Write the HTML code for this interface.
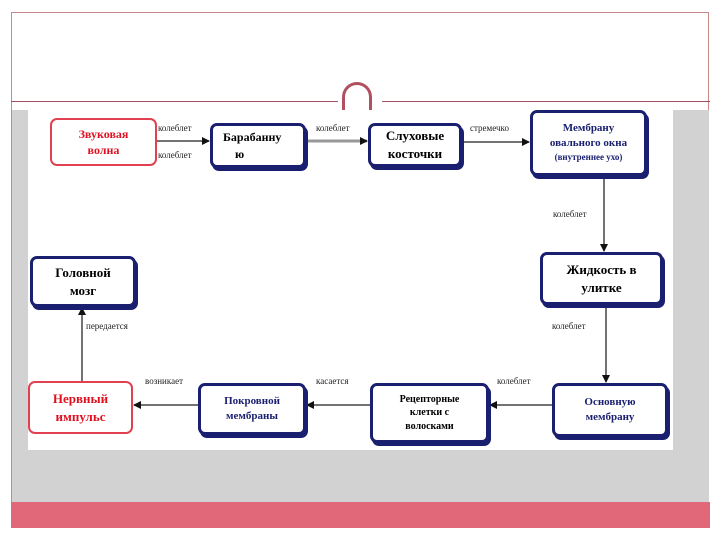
<!DOCTYPE html><html><head><meta charset="utf-8"><style>
body{margin:0;width:720px;height:540px;background:#fff;position:relative;overflow:hidden;font-family:"Liberation Serif",serif}
.a{position:absolute}
.b{position:absolute;border:3px solid #1a1f70;border-radius:7px;background:#fff;box-shadow:2px 3px 0 #1a1f70;display:flex;align-items:center;justify-content:center;text-align:center;font-weight:bold;font-size:12px;line-height:1.35;box-sizing:border-box}
.b>div{display:block}
.r{border:2px solid #e04050;box-shadow:none;color:#e01020}
.n{color:#1a1f70}
.l{position:absolute;font-size:9px;color:#222}
</style></head><body>
<div class="a" style="left:11px;top:12px;width:698px;height:515px;border:1px solid #c88;box-sizing:border-box"></div>
<div class="a" style="left:11px;top:101px;width:327px;height:1px;background:#a05060"></div>
<div class="a" style="left:382px;top:101px;width:328px;height:1px;background:#a05060"></div>
<div class="a" style="left:342px;top:82px;width:30px;height:34px;border:3px solid #b05060;border-bottom:none;border-radius:18px 18px 0 0;box-sizing:border-box"></div>
<div class="a" style="left:12px;top:110px;width:697px;height:392px;background:#d2d2d2"></div>
<div class="a" style="left:28px;top:110px;width:645px;height:340px;background:#fff"></div>
<div class="a" style="left:11px;top:502px;width:699px;height:26px;background:#e06878"></div>
<svg class="a" style="left:0;top:0" width="720" height="540">
<defs><marker id="m" markerWidth="8" markerHeight="8" refX="7" refY="4" orient="auto" markerUnits="userSpaceOnUse"><path d="M0,0L8,4L0,8z" fill="#111"/></marker></defs>
<g stroke="#444" stroke-width="1.5" fill="none">
<line x1="157" y1="141" x2="209" y2="141" marker-end="url(#m)"/>
<line x1="306" y1="141" x2="367" y2="141" stroke="#999" stroke-width="3" marker-end="url(#m)"/>
<line x1="462" y1="142" x2="529" y2="142" marker-end="url(#m)"/>
<line x1="604" y1="176" x2="604" y2="251" marker-end="url(#m)"/>
<line x1="606" y1="305" x2="606" y2="382" marker-end="url(#m)"/>
<line x1="552" y1="405" x2="490" y2="405" marker-end="url(#m)"/>
<line x1="370" y1="405" x2="307" y2="405" marker-end="url(#m)"/>
<line x1="198" y1="405" x2="134" y2="405" marker-end="url(#m)"/>
<line x1="82" y1="381" x2="82" y2="308" marker-end="url(#m)"/>
</g></svg>
<div class="b r" style="left:50px;top:118px;width:107px;height:48px"><div>Звуковая<br>волна</div></div>
<div class="b" style="left:210px;top:123px;width:96px;height:45px;justify-content:flex-start;padding-left:10px;text-align:left"><div>Барабанну<br>&nbsp;&nbsp;&nbsp;&nbsp;ю</div></div>
<div class="b" style="left:368px;top:123px;width:94px;height:44px;font-size:13px"><div>Слуховые<br>косточки</div></div>
<div class="b n" style="left:530px;top:110px;width:117px;height:66px;font-size:11px"><div>Мембрану<br>овального окна<br><span style="font-size:9px">(внутреннее ухо)</span></div></div>
<div class="b" style="left:540px;top:252px;width:123px;height:53px;font-size:13px"><div>Жидкость в<br>улитке</div></div>
<div class="b" style="left:30px;top:256px;width:106px;height:51px;font-size:13px"><div>Головной<br>мозг</div></div>
<div class="b r" style="left:28px;top:381px;width:105px;height:53px;font-size:13px"><div>Нервный<br>импульс</div></div>
<div class="b n" style="left:198px;top:383px;width:108px;height:52px;font-size:11px"><div>Покровной<br>мембраны</div></div>
<div class="b" style="left:370px;top:383px;width:119px;height:60px;font-size:10px"><div>Рецепторные<br>клетки с<br>волосками</div></div>
<div class="b n" style="left:552px;top:383px;width:116px;height:54px;font-size:11px"><div>Основную<br>мембрану</div></div>
<div class="l" style="left:158px;top:123px">колеблет</div>
<div class="l" style="left:158px;top:150px">колеблет</div>
<div class="l" style="left:316px;top:123px">колеблет</div>
<div class="l" style="left:470px;top:123px">стремечко</div>
<div class="l" style="left:553px;top:209px">колеблет</div>
<div class="l" style="left:552px;top:321px">колеблет</div>
<div class="l" style="left:497px;top:376px">колеблет</div>
<div class="l" style="left:316px;top:376px">касается</div>
<div class="l" style="left:145px;top:376px">возникает</div>
<div class="l" style="left:86px;top:321px">передается</div>
</body></html>
